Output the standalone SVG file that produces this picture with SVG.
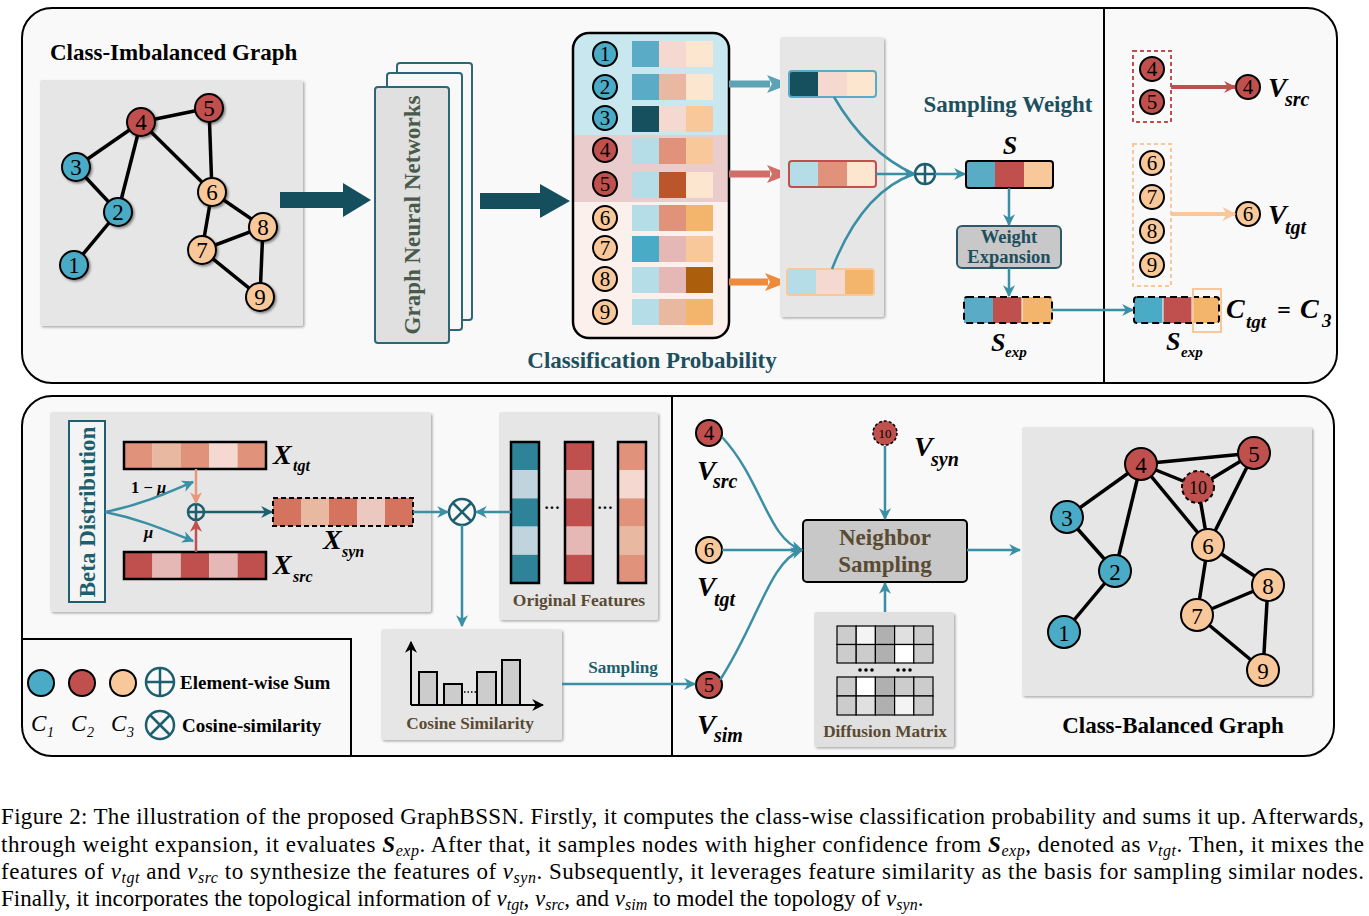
<svg xmlns="http://www.w3.org/2000/svg" width="1369" height="916" viewBox="0 0 1369 916">
<defs>
<filter id="sh" x="-10%" y="-10%" width="130%" height="130%"><feDropShadow dx="1.5" dy="1.5" stdDeviation="1.2" flood-color="#000" flood-opacity="0.3"/></filter>
<filter id="nsh" x="-30%" y="-30%" width="170%" height="170%"><feDropShadow dx="1.5" dy="1.5" stdDeviation="1" flood-color="#000" flood-opacity="0.45"/></filter>
<marker id="at" viewBox="0 0 10 10" refX="9" refY="5" markerWidth="12" markerHeight="12" markerUnits="userSpaceOnUse" orient="auto"><path d="M0,0 L10,5 L0,10 L3,5 z" fill="#3a8fa5"/></marker>
<marker id="ad" viewBox="0 0 10 10" refX="9" refY="5" markerWidth="12" markerHeight="12" markerUnits="userSpaceOnUse" orient="auto"><path d="M0,0 L10,5 L0,10 L3,5 z" fill="#1d5f6e"/></marker>
<marker id="ar" viewBox="0 0 10 10" refX="9" refY="5" markerWidth="12" markerHeight="12" markerUnits="userSpaceOnUse" orient="auto"><path d="M0,0 L10,5 L0,10 L3,5 z" fill="#c0504d"/></marker>
<marker id="ao" viewBox="0 0 10 10" refX="9" refY="5" markerWidth="12" markerHeight="12" markerUnits="userSpaceOnUse" orient="auto"><path d="M0,0 L10,5 L0,10 L3,5 z" fill="#e8977a"/></marker>
<marker id="al" viewBox="0 0 10 10" refX="9" refY="5" markerWidth="14" markerHeight="14" markerUnits="userSpaceOnUse" orient="auto"><path d="M0,0 L10,5 L0,10 L3,5 z" fill="#f8c89a"/></marker>
<marker id="ak" viewBox="0 0 10 10" refX="9" refY="5" markerWidth="12" markerHeight="12" markerUnits="userSpaceOnUse" orient="auto"><path d="M0,0 L10,5 L0,10 L3,5 z" fill="#000"/></marker>
<clipPath id="cpc"><rect x="573" y="33" width="156" height="305" rx="16"/></clipPath>
</defs>
<style>
text{font-family:"Liberation Serif","Times New Roman",serif}
.b{font-weight:bold}
.bi{font-weight:bold;font-style:italic}
.it{font-style:italic}
.num{font-size:23px;text-anchor:middle}
.sn{font-size:21px;text-anchor:middle}
.nb{fill:#4aabc6;stroke:#000;stroke-width:2}
.nr{fill:#c0504d;stroke:#000;stroke-width:2}
.no{fill:#f8c89a;stroke:#000;stroke-width:2}
.e{stroke:#000;stroke-width:3.5;fill:none}
.panel{fill:#e6e6e6}
.tl{stroke:#3a8fa5;stroke-width:2.5;fill:none}
.ttl{font-size:23px;font-weight:bold;fill:#1d4f5e}
.brn{font-weight:bold;fill:#5a4a32}
.cap{font-size:23px;fill:#000}
.op{fill:none;stroke:#1d5f6e;stroke-width:2.5}
</style>

<!-- frames -->
<g id="frames">
<rect x="22" y="8" width="1315" height="375" rx="30" fill="#f9f9f9" stroke="#000" stroke-width="2"/>
<line x1="1104" y1="8" x2="1104" y2="383" stroke="#000" stroke-width="2"/>
<rect x="22" y="396" width="1312" height="360" rx="30" fill="#f9f9f9" stroke="#000" stroke-width="2"/>
<line x1="672" y1="396" x2="672" y2="756" stroke="#000" stroke-width="2"/>
<path d="M22,639 L351,639 L351,756" fill="none" stroke="#000" stroke-width="2"/>
</g>

<!-- Class-imbalanced graph -->
<g id="imbalanced-graph">
<text x="50" y="60" class="b" font-size="23">Class-Imbalanced Graph</text>
<rect x="40" y="80" width="263" height="246" rx="2" class="panel" filter="url(#sh)"/>
<g class="e">
<line x1="141" y1="122" x2="209" y2="108"/>
<line x1="141" y1="122" x2="76" y2="167"/>
<line x1="141" y1="122" x2="118" y2="212"/>
<line x1="141" y1="122" x2="212" y2="192"/>
<line x1="76" y1="167" x2="118" y2="212"/>
<line x1="118" y1="212" x2="74" y2="265"/>
<line x1="209" y1="108" x2="212" y2="192"/>
<line x1="212" y1="192" x2="263" y2="227"/>
<line x1="212" y1="192" x2="202" y2="250"/>
<line x1="202" y1="250" x2="263" y2="227"/>
<line x1="202" y1="250" x2="260" y2="297"/>
<line x1="263" y1="227" x2="260" y2="297"/>
</g>
<g filter="url(#nsh)">
<circle cx="74" cy="265" r="14" class="nb"/><circle cx="118" cy="212" r="14" class="nb"/><circle cx="76" cy="167" r="14" class="nb"/>
<circle cx="141" cy="122" r="14" class="nr"/><circle cx="209" cy="108" r="14" class="nr"/>
<circle cx="212" cy="192" r="14" class="no"/><circle cx="202" cy="250" r="14" class="no"/><circle cx="263" cy="227" r="14" class="no"/><circle cx="260" cy="297" r="14" class="no"/>
</g>
<g class="num">
<text x="74" y="273">1</text><text x="118" y="220">2</text><text x="76" y="175">3</text><text x="141" y="130">4</text><text x="209" y="116">5</text><text x="212" y="200">6</text><text x="202" y="258">7</text><text x="263" y="235">8</text><text x="260" y="305">9</text>
</g>
</g>

<!-- big arrows -->
<g id="big-arrows" fill="#154f5e">
<path d="M280,192 L343,192 L343,183 L371,200 L343,217 L343,208 L280,208 z"/>
<path d="M480,193 L540,193 L540,184 L570,201 L540,218 L540,209 L480,209 z"/>
</g>

<!-- GNN -->
<g id="gnn">
<rect x="397" y="63" width="75" height="257" rx="3" fill="#f8f8f8" stroke="#2d6677" stroke-width="2"/>
<rect x="387" y="73" width="75" height="257" rx="3" fill="#f8f8f8" stroke="#2d6677" stroke-width="2"/>
<rect x="375" y="87" width="74" height="256" rx="3" fill="#e0e0e0" stroke="#2d6677" stroke-width="2"/>
<text transform="translate(420,215) rotate(-90)" text-anchor="middle" class="b" font-size="23" fill="#4a5a4a">Graph Neural Networks</text>
</g>

<!-- Classification probability -->
<g id="class-prob">
<g clip-path="url(#cpc)">
<rect x="573" y="33" width="156" height="102" fill="#c9e7ef"/>
<rect x="573" y="135" width="156" height="67" fill="#ebcccc"/>
<rect x="573" y="202" width="156" height="136" fill="#fcf0ec"/>
</g>
<rect x="573" y="33" width="156" height="305" rx="16" fill="none" stroke="#000" stroke-width="2.5"/>
<g>
<rect x="632" y="41" width="27" height="26" fill="#5aabc6"/><rect x="659" y="41" width="27" height="26" fill="#f5d9d0"/><rect x="686" y="41" width="27" height="26" fill="#fce6d0"/>
<rect x="632" y="74" width="27" height="26" fill="#5aabc6"/><rect x="659" y="74" width="27" height="26" fill="#e8b8a0"/><rect x="686" y="74" width="27" height="26" fill="#fce6d0"/>
<rect x="632" y="106" width="27" height="26" fill="#164f5e"/><rect x="659" y="106" width="27" height="26" fill="#f5d9d0"/><rect x="686" y="106" width="27" height="26" fill="#f8c89a"/>
<rect x="632" y="138" width="27" height="26" fill="#b5dde8"/><rect x="659" y="138" width="27" height="26" fill="#e0937a"/><rect x="686" y="138" width="27" height="26" fill="#f8c89a"/>
<rect x="632" y="172" width="27" height="26" fill="#b5dde8"/><rect x="659" y="172" width="27" height="26" fill="#bb562c"/><rect x="686" y="172" width="27" height="26" fill="#fce6d0"/>
<rect x="632" y="205" width="27" height="26" fill="#b5dde8"/><rect x="659" y="205" width="27" height="26" fill="#e0937a"/><rect x="686" y="205" width="27" height="26" fill="#f3b46c"/>
<rect x="632" y="236" width="27" height="26" fill="#4aabc6"/><rect x="659" y="236" width="27" height="26" fill="#e5b8b5"/><rect x="686" y="236" width="27" height="26" fill="#f8c89a"/>
<rect x="632" y="267" width="27" height="26" fill="#b5dde8"/><rect x="659" y="267" width="27" height="26" fill="#e5b8b5"/><rect x="686" y="267" width="27" height="26" fill="#ab5f0d"/>
<rect x="632" y="299" width="27" height="26" fill="#b5dde8"/><rect x="659" y="299" width="27" height="26" fill="#e8b8a0"/><rect x="686" y="299" width="27" height="26" fill="#f3b46c"/>
</g>
<circle cx="605" cy="54" r="12" class="nb"/><circle cx="605" cy="87" r="12" class="nb"/><circle cx="605" cy="118" r="12" class="nb"/>
<circle cx="605" cy="150" r="12" class="nr"/><circle cx="605" cy="184" r="12" class="nr"/>
<circle cx="605" cy="218" r="12" class="no"/><circle cx="605" cy="248" r="12" class="no"/><circle cx="605" cy="279" r="12" class="no"/><circle cx="605" cy="312" r="12" class="no"/>
<g class="sn">
<text x="605" y="61">1</text><text x="605" y="94">2</text><text x="605" y="125">3</text><text x="605" y="157">4</text><text x="605" y="191">5</text><text x="605" y="225">6</text><text x="605" y="255">7</text><text x="605" y="286">8</text><text x="605" y="319">9</text>
</g>
<text x="652" y="368" text-anchor="middle" class="ttl">Classification Probability</text>
</g>

<!-- thick colored arrows -->
<g id="prob-arrows">
<line x1="729" y1="84" x2="770" y2="84" stroke="#5ba3b5" stroke-width="7"/>
<path d="M767,75 L790,84 L767,93 L772,84 z" fill="#5ba3b5"/>
<line x1="729" y1="174" x2="770" y2="174" stroke="#d06e68" stroke-width="7"/>
<path d="M767,165 L790,174 L767,183 L772,174 z" fill="#d06e68"/>
<line x1="729" y1="282" x2="768" y2="282" stroke="#ee8a3a" stroke-width="7"/>
<path d="M765,273 L788,282 L765,291 L770,282 z" fill="#ee8a3a"/>
</g>

<!-- stripes -->
<g id="stripes">
<rect x="780" y="37" width="104" height="280" rx="3" class="panel" filter="url(#sh)"/>
<rect x="789" y="71" width="29" height="26" fill="#164f5e"/><rect x="818" y="71" width="29" height="26" fill="#f5d9d0"/><rect x="847" y="71" width="29" height="26" fill="#fce6d0"/>
<rect x="789" y="71" width="87" height="26" rx="3" fill="none" stroke="#5aabc6" stroke-width="2"/>
<rect x="789" y="161" width="29" height="26" fill="#b5dde8"/><rect x="818" y="161" width="29" height="26" fill="#e0937a"/><rect x="847" y="161" width="29" height="26" fill="#fce6d0"/>
<rect x="789" y="161" width="87" height="26" rx="3" fill="none" stroke="#c0504d" stroke-width="2"/>
<rect x="787" y="269" width="29" height="26" fill="#b5dde8"/><rect x="816" y="269" width="29" height="26" fill="#f5d9d0"/><rect x="845" y="269" width="29" height="26" fill="#f3b46c"/>
<rect x="787" y="269" width="87" height="26" rx="3" fill="none" stroke="#f8c89a" stroke-width="2"/>
</g>

<!-- sampling weight -->
<g id="sampling-weight">
<text x="1008" y="112" text-anchor="middle" class="ttl">Sampling Weight</text>
<text x="1010" y="154" text-anchor="middle" class="bi" font-size="26">S</text>
<rect x="966" y="161" width="29" height="27" fill="#5aabc6"/><rect x="995" y="161" width="29" height="27" fill="#c0504d"/><rect x="1024" y="161" width="29" height="27" fill="#f8c89a"/>
<rect x="966" y="161" width="87" height="27" rx="3" fill="none" stroke="#000" stroke-width="2"/>
<circle cx="925" cy="174" r="10" class="op"/><line x1="915" y1="174" x2="935" y2="174" class="op"/><line x1="925" y1="164" x2="925" y2="184" class="op"/>
</g>
<g id="weight-expansion">
<rect x="957" y="226" width="104" height="42" rx="5" fill="#c8c8c8" stroke="#2d5a6a" stroke-width="2"/>
<text x="1009" y="243" text-anchor="middle" class="b" font-size="18.5" fill="#1d4f5e">Weight</text>
<text x="1009" y="263" text-anchor="middle" class="b" font-size="18.5" fill="#1d4f5e">Expansion</text>
</g>
<g id="s-exp">
<rect x="964" y="297" width="29" height="26" fill="#5aabc6"/><rect x="993" y="297" width="29" height="26" fill="#c0504d"/><rect x="1022" y="297" width="30" height="26" fill="#f3b46c"/>
<line x1="1022" y1="297" x2="1022" y2="323" stroke="#fff" stroke-width="1"/>
<rect x="964" y="297" width="88" height="26" rx="3" fill="none" stroke="#000" stroke-width="2" stroke-dasharray="7,4"/>
<text x="991" y="351" class="bi" font-size="26">S</text><text x="1005" y="357" class="bi" font-size="15">exp</text>
</g>

<!-- right top panel -->
<g id="src-select">
<rect x="1133" y="51" width="38" height="71" fill="none" stroke="#c0504d" stroke-width="2" stroke-dasharray="4,3"/>
<circle cx="1152" cy="69" r="12" class="nr"/><circle cx="1152" cy="102" r="12" class="nr"/>
<text x="1152" y="76" class="sn">4</text><text x="1152" y="109" class="sn">5</text>
<circle cx="1248" cy="87" r="12" class="nr"/><text x="1248" y="94" class="sn">4</text>
<text x="1268" y="97" class="bi" font-size="28">V</text><text x="1285" y="106" class="bi" font-size="20">src</text>
</g>
<g id="tgt-select">
<rect x="1133" y="144" width="38" height="142" fill="none" stroke="#f8c89a" stroke-width="2" stroke-dasharray="4,3"/>
<circle cx="1152" cy="163" r="12" class="no"/><circle cx="1152" cy="197" r="12" class="no"/><circle cx="1152" cy="231" r="12" class="no"/><circle cx="1152" cy="265" r="12" class="no"/>
<text x="1152" y="170" class="sn">6</text><text x="1152" y="204" class="sn">7</text><text x="1152" y="238" class="sn">8</text><text x="1152" y="272" class="sn">9</text>
<circle cx="1248" cy="214" r="12" class="no"/><text x="1248" y="221" class="sn">6</text>
<text x="1268" y="224" class="bi" font-size="28">V</text><text x="1285" y="234" class="bi" font-size="20">tgt</text>
</g>
<g id="s-exp-right">
<rect x="1134" y="297" width="29" height="26" fill="#4aabc6"/><rect x="1163" y="297" width="29" height="26" fill="#c0504d"/><rect x="1192" y="297" width="27" height="26" fill="#f3b46c"/>
<line x1="1163" y1="297" x2="1163" y2="323" stroke="#fff" stroke-width="1"/><line x1="1192" y1="297" x2="1192" y2="323" stroke="#fff" stroke-width="1"/>
<rect x="1134" y="297" width="85" height="26" rx="3" fill="none" stroke="#000" stroke-width="2" stroke-dasharray="7,4"/>
<rect x="1193" y="289" width="28" height="43" fill="none" stroke="#f8c89a" stroke-width="2"/>
<text x="1226" y="318" class="bi" font-size="28">C</text><text x="1246" y="328" class="bi" font-size="19">tgt</text>
<text x="1277" y="318" class="bi" font-size="24">=</text>
<text x="1300" y="318" class="bi" font-size="28">C</text><text x="1322" y="327" class="bi" font-size="19">3</text>
<text x="1166" y="350" class="bi" font-size="26">S</text><text x="1181" y="357" class="bi" font-size="15">exp</text>
</g>

<!-- bottom left: feature synthesis -->
<g id="beta-panel">
<rect x="50" y="412" width="381" height="200" rx="3" class="panel" filter="url(#sh)"/>
<rect x="69" y="421" width="36" height="181" fill="#f4f4f4" stroke="#1d5f6e" stroke-width="2"/>
<text transform="translate(95,512) rotate(-90)" text-anchor="middle" class="b" font-size="23" fill="#1d5f6e">Beta Distribution</text>
</g>
<g id="x-tgt">
<rect x="124" y="442" width="28.4" height="27" fill="#e0937a"/><rect x="152.4" y="442" width="28.4" height="27" fill="#e8b8a0"/><rect x="180.8" y="442" width="28.4" height="27" fill="#e0937a"/><rect x="209.2" y="442" width="28.4" height="27" fill="#f5d9d0"/><rect x="237.6" y="442" width="28.4" height="27" fill="#e0937a"/>
<rect x="124" y="442" width="142" height="27" fill="none" stroke="#000" stroke-width="2.5"/>
<text x="273" y="464" class="bi" font-size="28">X</text><text x="293" y="471" class="bi" font-size="16">tgt</text>
</g>
<g id="x-src">
<rect x="124" y="552" width="28.4" height="27" fill="#c0504d"/><rect x="152.4" y="552" width="28.4" height="27" fill="#e5b8b5"/><rect x="180.8" y="552" width="28.4" height="27" fill="#c0504d"/><rect x="209.2" y="552" width="28.4" height="27" fill="#e5b8b5"/><rect x="237.6" y="552" width="28.4" height="27" fill="#c0504d"/>
<rect x="124" y="552" width="142" height="27" fill="none" stroke="#000" stroke-width="2.5"/>
<text x="273" y="574" class="bi" font-size="28">X</text><text x="293" y="582" class="bi" font-size="16">src</text>
</g>
<g id="mix-sum">
<circle cx="196" cy="512" r="8" class="op" stroke-width="2"/><line x1="188" y1="512" x2="204" y2="512" class="op" stroke-width="2"/><line x1="196" y1="504" x2="196" y2="520" class="op" stroke-width="2"/>
<text x="131" y="493" class="b" font-size="16.5">1 − <tspan class="bi">μ</tspan></text>
<text x="144" y="538" class="bi" font-size="16.5">μ</text>
</g>
<g id="x-syn">
<rect x="273" y="498" width="28" height="28" fill="#d4735e"/><rect x="301" y="498" width="28" height="28" fill="#e8b8a0"/><rect x="329" y="498" width="28" height="28" fill="#d4735e"/><rect x="357" y="498" width="28" height="28" fill="#ebc8c0"/><rect x="385" y="498" width="28" height="28" fill="#d4735e"/>
<rect x="273" y="498" width="140" height="28" fill="none" stroke="#000" stroke-width="2" stroke-dasharray="5,3"/>
<text x="323" y="549" class="bi" font-size="28">X</text><text x="342" y="557" class="bi" font-size="16">syn</text>
</g>

<g id="cos-op">
<circle cx="462" cy="512" r="13" class="op"/><line x1="453" y1="503" x2="471" y2="521" class="op"/><line x1="471" y1="503" x2="453" y2="521" class="op"/>
</g>
<g id="original-features">
<rect x="499" y="412" width="159" height="208" rx="3" class="panel" filter="url(#sh)"/>
<rect x="511" y="442" width="28" height="28.2" fill="#2e8399"/><rect x="511" y="470.2" width="28" height="28.2" fill="#c0d4de"/><rect x="511" y="498.4" width="28" height="28.2" fill="#2e8399"/><rect x="511" y="526.6" width="28" height="28.2" fill="#c0d4de"/><rect x="511" y="554.8" width="28" height="28.2" fill="#2e8399"/>
<rect x="511" y="442" width="28" height="141" fill="none" stroke="#000" stroke-width="2.5"/>
<rect x="565" y="442" width="28" height="28.2" fill="#c0504d"/><rect x="565" y="470.2" width="28" height="28.2" fill="#e5b8b5"/><rect x="565" y="498.4" width="28" height="28.2" fill="#c0504d"/><rect x="565" y="526.6" width="28" height="28.2" fill="#e5b8b5"/><rect x="565" y="554.8" width="28" height="28.2" fill="#c0504d"/>
<rect x="565" y="442" width="28" height="141" fill="none" stroke="#000" stroke-width="2.5"/>
<rect x="618" y="442" width="28" height="28.2" fill="#e0937a"/><rect x="618" y="470.2" width="28" height="28.2" fill="#f5d9d0"/><rect x="618" y="498.4" width="28" height="28.2" fill="#e0937a"/><rect x="618" y="526.6" width="28" height="28.2" fill="#e8b8a0"/><rect x="618" y="554.8" width="28" height="28.2" fill="#e0937a"/>
<rect x="618" y="442" width="28" height="141" fill="none" stroke="#000" stroke-width="2.5"/>
<text x="552" y="513" text-anchor="middle" class="b" font-size="16">···</text>
<text x="605" y="513" text-anchor="middle" class="b" font-size="16">···</text>
<text x="579" y="606" text-anchor="middle" class="brn" font-size="17.5">Original Features</text>
</g>
<g id="cosine-similarity">
<rect x="381" y="629" width="181" height="111" rx="3" class="panel" filter="url(#sh)"/>
<rect x="419" y="672" width="18" height="33" fill="#cccccc" stroke="#000" stroke-width="2"/>
<rect x="444" y="684" width="18" height="21" fill="#cccccc" stroke="#000" stroke-width="2"/>
<rect x="477" y="672" width="19" height="33" fill="#cccccc" stroke="#000" stroke-width="2"/>
<rect x="502" y="660" width="18" height="45" fill="#cccccc" stroke="#000" stroke-width="2"/>
<line x1="464" y1="692" x2="476" y2="692" stroke="#000" stroke-width="1.5" stroke-dasharray="1.5,2"/>
<line x1="411" y1="705" x2="411" y2="642" stroke="#000" stroke-width="2" marker-end="url(#ak)"/>
<line x1="411" y1="705" x2="543" y2="705" stroke="#000" stroke-width="2" marker-end="url(#ak)"/>
<text x="470" y="729" text-anchor="middle" class="brn" font-size="17.2">Cosine Similarity</text>
</g>

<!-- legend -->
<g id="legend">
<circle cx="41" cy="683" r="13" class="nb"/><circle cx="82" cy="683" r="13" class="nr"/><circle cx="123" cy="683" r="13" class="no"/>
<circle cx="160" cy="682" r="14" class="op"/><line x1="146" y1="682" x2="174" y2="682" class="op"/><line x1="160" y1="668" x2="160" y2="696" class="op"/>
<text x="180" y="689" class="b" font-size="19">Element-wise Sum</text>
<circle cx="160" cy="725" r="14" class="op"/><line x1="150" y1="715" x2="170" y2="735" class="op"/><line x1="170" y1="715" x2="150" y2="735" class="op"/>
<text x="182" y="732" class="b" font-size="19">Cosine-similarity</text>
<text x="31" y="731" class="it" font-size="23">C</text><text x="47" y="737" class="it" font-size="14">1</text>
<text x="71" y="731" class="it" font-size="23">C</text><text x="87" y="737" class="it" font-size="14">2</text>
<text x="111" y="731" class="it" font-size="23">C</text><text x="127" y="737" class="it" font-size="14">3</text>
</g>

<!-- bottom middle -->
<g id="v-src-node">
<circle cx="709" cy="433" r="13" class="nr"/><text x="709" y="440" class="sn">4</text>
<text x="697" y="480" class="bi" font-size="28">V</text><text x="713" y="488" class="bi" font-size="20">src</text>
</g>
<g id="v-tgt-node">
<circle cx="709" cy="550" r="13" class="no"/><text x="709" y="557" class="sn">6</text>
<text x="697" y="596" class="bi" font-size="28">V</text><text x="714" y="606" class="bi" font-size="20">tgt</text>
</g>
<g id="v-sim-node">
<circle cx="709" cy="685" r="13" class="nr"/><text x="709" y="692" class="sn">5</text>
<text x="697" y="734" class="bi" font-size="28">V</text><text x="714" y="742" class="bi" font-size="20">sim</text>
</g>
<g id="v-syn-node">
<circle cx="885" cy="433" r="12" fill="#c0504d" stroke="#000" stroke-width="1.5" stroke-dasharray="3,2"/>
<text x="885" y="438" text-anchor="middle" font-size="13">10</text>
<text x="914" y="456" class="bi" font-size="28">V</text><text x="931" y="466" class="bi" font-size="20">syn</text>
</g>
<g id="neighbor-sampling">
<rect x="803" y="520" width="164" height="62" rx="4" fill="#c8c8c8" stroke="#000" stroke-width="2"/>
<text x="885" y="545" text-anchor="middle" class="brn" font-size="23">Neighbor</text>
<text x="885" y="572" text-anchor="middle" class="brn" font-size="23">Sampling</text>
</g>
<g id="diffusion-matrix">
<rect x="814" y="612" width="140" height="135" rx="3" fill="#e0e0e0" filter="url(#sh)"/>
<g stroke="#000" stroke-width="1.2">
<rect x="837" y="626" width="19.2" height="18.5" fill="#cccccc"/><rect x="856.2" y="626" width="19.2" height="18.5" fill="#f4f4f4"/><rect x="875.4" y="626" width="19.2" height="18.5" fill="#b0b0b0"/><rect x="894.6" y="626" width="19.2" height="18.5" fill="#e0e0e0"/><rect x="913.8" y="626" width="19.2" height="18.5" fill="#cccccc"/>
<rect x="837" y="644.5" width="19.2" height="18.5" fill="#cccccc"/><rect x="856.2" y="644.5" width="19.2" height="18.5" fill="#cccccc"/><rect x="875.4" y="644.5" width="19.2" height="18.5" fill="#b0b0b0"/><rect x="894.6" y="644.5" width="19.2" height="18.5" fill="#ffffff"/><rect x="913.8" y="644.5" width="19.2" height="18.5" fill="#cccccc"/>
<rect x="837" y="677" width="19.2" height="19" fill="#cccccc"/><rect x="856.2" y="677" width="19.2" height="19" fill="#ffffff"/><rect x="875.4" y="677" width="19.2" height="19" fill="#b0b0b0"/><rect x="894.6" y="677" width="19.2" height="19" fill="#cccccc"/><rect x="913.8" y="677" width="19.2" height="19" fill="#cccccc"/>
<rect x="837" y="696" width="19.2" height="19" fill="#cccccc"/><rect x="856.2" y="696" width="19.2" height="19" fill="#e0e0e0"/><rect x="875.4" y="696" width="19.2" height="19" fill="#b0b0b0"/><rect x="894.6" y="696" width="19.2" height="19" fill="#f4f4f4"/><rect x="913.8" y="696" width="19.2" height="19" fill="#cccccc"/>
</g>
<g fill="#000"><circle cx="860" cy="670" r="1.8"/><circle cx="866" cy="670" r="1.8"/><circle cx="872" cy="670" r="1.8"/><circle cx="898" cy="670" r="1.8"/><circle cx="904" cy="670" r="1.8"/><circle cx="910" cy="670" r="1.8"/></g>
<text x="885" y="737" text-anchor="middle" class="brn" font-size="17.2">Diffusion Matrix</text>
</g>

<!-- class balanced graph -->
<g id="balanced-graph">
<rect x="1022" y="427" width="290" height="269" rx="2" class="panel" filter="url(#sh)"/>
<g class="e" stroke-width="3">
<line x1="1141" y1="464" x2="1254" y2="453"/>
<line x1="1141" y1="464" x2="1198" y2="487"/>
<line x1="1198" y1="487" x2="1254" y2="453"/>
<line x1="1141" y1="464" x2="1067" y2="517"/>
<line x1="1141" y1="464" x2="1115" y2="571"/>
<line x1="1141" y1="464" x2="1208" y2="545"/>
<line x1="1198" y1="487" x2="1208" y2="545"/>
<line x1="1254" y1="453" x2="1208" y2="545"/>
<line x1="1067" y1="517" x2="1115" y2="571"/>
<line x1="1115" y1="571" x2="1064" y2="632"/>
<line x1="1208" y1="545" x2="1268" y2="585"/>
<line x1="1208" y1="545" x2="1197" y2="615"/>
<line x1="1197" y1="615" x2="1268" y2="585"/>
<line x1="1197" y1="615" x2="1263" y2="670"/>
<line x1="1268" y1="585" x2="1263" y2="670"/>
</g>
<circle cx="1064" cy="632" r="16" class="nb"/><circle cx="1115" cy="571" r="16" class="nb"/><circle cx="1067" cy="517" r="16" class="nb"/>
<circle cx="1141" cy="464" r="16" class="nr"/><circle cx="1254" cy="453" r="16" class="nr"/>
<circle cx="1198" cy="487" r="16" fill="#c0504d" stroke="#000" stroke-width="2" stroke-dasharray="4,3"/>
<circle cx="1208" cy="545" r="16" class="no"/><circle cx="1197" cy="615" r="16" class="no"/><circle cx="1268" cy="585" r="16" class="no"/><circle cx="1263" cy="670" r="16" class="no"/>
<g class="num" font-size="25">
<text x="1064" y="641">1</text><text x="1115" y="580">2</text><text x="1067" y="526">3</text><text x="1141" y="473">4</text><text x="1254" y="462">5</text><text x="1208" y="554">6</text><text x="1197" y="624">7</text><text x="1268" y="594">8</text><text x="1263" y="679">9</text>
</g>
<text x="1198" y="494" text-anchor="middle" font-size="18">10</text>
<text x="1173" y="733" text-anchor="middle" class="b" font-size="23">Class-Balanced Graph</text>
</g>

<!-- connectors -->
<g id="connectors">
<path d="M834,97 Q866,152 914,174" class="tl"/>
<path d="M876,174 L914,174" class="tl" marker-end="url(#at)"/>
<path d="M832,269 Q862,192 914,174" class="tl"/>
<line x1="935" y1="174" x2="965" y2="174" class="tl" marker-end="url(#at)"/>
<line x1="1009" y1="188" x2="1009" y2="225" class="tl" marker-end="url(#at)"/>
<line x1="1009" y1="268" x2="1009" y2="296" class="tl" marker-end="url(#at)"/>
<line x1="1052" y1="310" x2="1133" y2="310" class="tl" stroke-width="2" marker-end="url(#at)"/>
<line x1="1171" y1="87" x2="1235" y2="87" stroke="#c0504d" stroke-width="4" marker-end="url(#ar)"/>
<line x1="1171" y1="214" x2="1235" y2="214" stroke="#f8c89a" stroke-width="4" marker-end="url(#al)"/>
<path d="M105,512 C140,505 165,494 193,482" class="tl" marker-end="url(#at)"/>
<path d="M105,512 C140,519 165,530 193,541" class="tl" marker-end="url(#at)"/>
<line x1="196" y1="469" x2="196" y2="503" stroke="#e8977a" stroke-width="2.5" marker-end="url(#ao)"/>
<line x1="196" y1="552" x2="196" y2="521" stroke="#c0504d" stroke-width="2.5" marker-end="url(#ar)"/>
<line x1="204" y1="512" x2="272" y2="512" stroke="#1d5f6e" stroke-width="2.5" marker-end="url(#ad)"/>
<line x1="413" y1="512" x2="448" y2="512" class="tl" marker-end="url(#at)"/>
<line x1="511" y1="512" x2="476" y2="512" class="tl" marker-end="url(#at)"/>
<line x1="462" y1="525" x2="462" y2="626" class="tl" marker-end="url(#at)"/>
<line x1="562" y1="684" x2="695" y2="684" class="tl" marker-end="url(#at)"/>
<text x="623" y="673" text-anchor="middle" class="b" font-size="17.2" fill="#1d5f6e">Sampling</text>
<path d="M722,437 C762,480 768,540 802,550" class="tl" marker-end="url(#at)"/>
<path d="M722,550 L802,550" class="tl" marker-end="url(#at)"/>
<path d="M720,680 C758,622 770,560 802,550" class="tl" marker-end="url(#at)"/>
<line x1="885" y1="446" x2="885" y2="519" class="tl" marker-end="url(#at)"/>
<line x1="885" y1="612" x2="885" y2="583" class="tl" marker-end="url(#at)"/>
<line x1="967" y1="550" x2="1020" y2="550" class="tl" marker-end="url(#at)"/>
</g>

<!-- caption -->
<g id="caption" class="cap">
<text x="1" y="824" class="cap" textLength="1363" lengthAdjust="spacing">Figure 2: The illustration of the proposed GraphBSSN. Firstly, it computes the class-wise classification probability and sums it up. Afterwards,</text>
<text x="1" y="852" class="cap" textLength="1363" lengthAdjust="spacing">through weight expansion, it evaluates <tspan class="bi">S</tspan><tspan class="it" font-size="16" dy="4">exp</tspan><tspan dy="-4">. After that, it samples nodes with higher confidence from </tspan><tspan class="bi">S</tspan><tspan class="it" font-size="16" dy="4">exp</tspan><tspan dy="-4">, denoted as </tspan><tspan class="it">v</tspan><tspan class="it" font-size="16" dy="4">tgt</tspan><tspan dy="-4">. Then, it mixes the</tspan></text>
<text x="1" y="879" class="cap" textLength="1363" lengthAdjust="spacing">features of <tspan class="it">v</tspan><tspan class="it" font-size="16" dy="4">tgt</tspan><tspan dy="-4"> and </tspan><tspan class="it">v</tspan><tspan class="it" font-size="16" dy="4">src</tspan><tspan dy="-4"> to synthesize the features of </tspan><tspan class="it">v</tspan><tspan class="it" font-size="16" dy="4">syn</tspan><tspan dy="-4">. Subsequently, it leverages feature similarity as the basis for sampling similar nodes.</tspan></text>
<text x="1" y="906" class="cap">Finally, it incorporates the topological information of <tspan class="it">v</tspan><tspan class="it" font-size="16" dy="4">tgt</tspan><tspan dy="-4">, </tspan><tspan class="it">v</tspan><tspan class="it" font-size="16" dy="4">src</tspan><tspan dy="-4">, and </tspan><tspan class="it">v</tspan><tspan class="it" font-size="16" dy="4">sim</tspan><tspan dy="-4"> to model the topology of </tspan><tspan class="it">v</tspan><tspan class="it" font-size="16" dy="4">syn</tspan><tspan dy="-4">.</tspan></text>
</g>
</svg>
